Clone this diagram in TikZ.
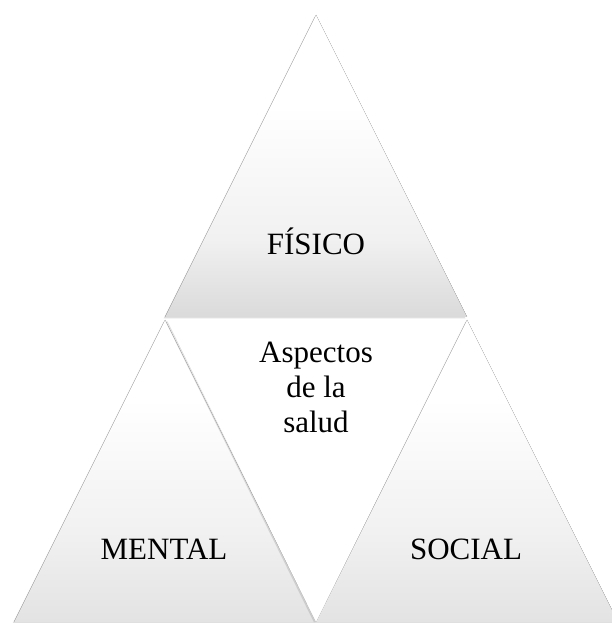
\documentclass[tikz,border=0pt]{standalone}
\usepackage{fontspec}
\setmainfont{Liberation Serif}
\usepackage{tikz}
\usetikzlibrary{shadows}
\usepackage{xcolor}
\definecolor{pyrdark}{HTML}{DADADA}
\definecolor{pyrmid}{HTML}{F1F1F1}
\definecolor{pyrlight}{HTML}{E3E3E3}
\pgfdeclareverticalshading{topshade}{100bp}{color(0bp)=(pyrdark); color(25bp)=(pyrdark); color(38bp)=(pyrmid); color(60bp)=(white); color(100bp)=(white)}
\pgfdeclareverticalshading{lowshade}{100bp}{color(0bp)=(pyrlight); color(25bp)=(pyrlight); color(40bp)=(pyrmid); color(62bp)=(white); color(100bp)=(white)}

\begin{document}
\begin{tikzpicture}
[x = 1pt, y = 1pt, font = \fontsize{31}{35}\selectfont,
 shade/.style = {drop shadow = {opacity = .25, shadow xshift = -1.5pt, shadow yshift = -1.5pt}}]
\useasboundingbox (0,0) rectangle (611,623);
\fill[white] (0,0) rectangle (611,623);

\fill[shade, shading=topshade] (316,608) -- (467,306) -- (165,306) -- cycle;
\fill[shade, shading=lowshade] (165,303) -- (316,1) -- (14,1) -- cycle;
\fill[shade, shading=lowshade] (467,303) -- (618,1) -- (316,1) -- cycle;
\fill[shade, white] (167,303) -- (465,303) -- (316,1) -- cycle;

\node[anchor=base] (n1) at (316,368) {FÍSICO};
\node[align=center] (n2) at (316,236) {Aspectos\\de la\\salud};
\node[anchor=base] (n3) at (164,63) {MENTAL};
\node[anchor=base] (n4) at (466,63) {SOCIAL};

\end{tikzpicture}
\end{document}
